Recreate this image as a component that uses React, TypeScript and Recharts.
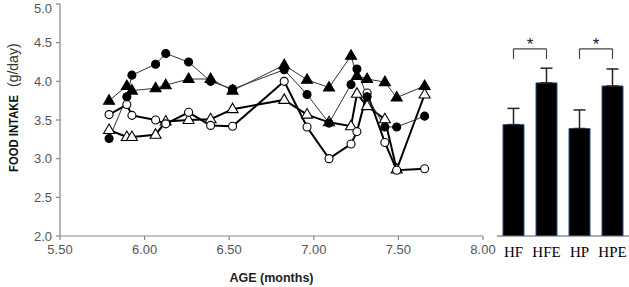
import React from 'react'
import {
  Bar,
  BarChart,
  ComposedChart,
  ErrorBar,
  Line,
  ReferenceLine,
  XAxis,
  YAxis,
} from 'recharts'

// ages (months) shared by the four time series
const ages = [5.79, 5.895, 5.925, 6.065, 6.125, 6.26, 6.39, 6.52, 6.825, 6.96, 7.09, 7.22, 7.255, 7.315, 7.42, 7.49, 7.655]

// filled circles (thin line)
const filledCircle = [3.26, 3.8, 4.08, 4.22, 4.36, 4.25, 4.0, 3.9, 4.15, 3.83, 3.46, 3.96, 4.16, 3.8, 3.41, 3.41, 3.55]
// filled triangles (thin line)
const filledTriangle = [3.75, 3.94, 3.88, 3.91, 3.95, 4.03, 4.03, 3.88, 4.21, 4.02, 3.92, 4.33, 4.07, 4.03, 3.99, 3.79, 3.94]
// open circles (thick line)
const openCircle = [3.57, 3.7, 3.56, 3.5, 3.45, 3.6, 3.43, 3.42, 4.0, 3.41, 3.0, 3.19, 3.35, 3.85, 3.21, 2.85, 2.87]
// open triangles (thick line)
const openTriangle = [3.37, 3.28, 3.28, 3.31, 3.48, 3.5, 3.51, 3.64, 3.76, 3.57, 3.47, 3.42, 3.84, 3.68, 3.51, 2.86, 3.83]

const xTicks = [5.5, 6.0, 6.5, 7.0, 7.5, 8.0]
const yTicks = [2.0, 2.5, 3.0, 3.5, 4.0, 4.5, 5.0]

// bar panel
const groups = ['HF', 'HFE', 'HP', 'HPE']
const means = [3.44, 3.98, 3.39, 3.94]
const errors = [0.21, 0.19, 0.24, 0.22]
const sigPairs: [string, string][] = [['HF', 'HFE'], ['HP', 'HPE']]
const bracketTop = 4.42
const bracketFoot = 4.29

const series = ages.map((age, i) => ({
  age,
  fc: filledCircle[i],
  ft: filledTriangle[i],
  oc: openCircle[i],
  ot: openTriangle[i],
}))

// only the upper whisker is drawn
const bars = groups.map((group, i) => ({ group, mean: means[i], sem: [0, errors[i]] }))

const sans = '"Liberation Sans", Arial, sans-serif'
const serif = '"Liberation Serif", "Times New Roman", serif'

const circleDot = (fill: string) => (p: any) => {
  if (p.cx == null || p.cy == null) return <g key={p.index} />
  return <circle key={p.index} cx={p.cx} cy={p.cy} r={4} fill={fill} stroke="#000" strokeWidth={1.1} />
}

const triDot = (fill: string) => (p: any) => {
  if (p.cx == null || p.cy == null) return <g key={p.index} />
  const { cx, cy } = p
  return (
    <path
      key={p.index}
      d={`M${cx},${cy - 6} L${cx + 5.5},${cy + 3.5} L${cx - 5.5},${cy + 3.5} Z`}
      fill={fill}
      stroke="#000"
      strokeWidth={1.1}
    />
  )
}

const yLabel = () => (
  <g>
    <text
      transform="translate(18,172) rotate(-90)"
      fontFamily={sans}
      fontWeight="bold"
      fontSize={12}
      fill="#111"
      textLength={77}
      lengthAdjust="spacingAndGlyphs"
    >
      FOOD INTAKE
    </text>
    <text transform="translate(18,87) rotate(-90)" fontFamily={sans} fontSize={14} fill="#333">
      (g/day)
    </text>
  </g>
)

const xLabel = () => (
  <text x={271.5} y={282} textAnchor="middle" fontFamily={sans} fontWeight="bold" fontSize={12.5} fill="#222">
    AGE (months)
  </text>
)

export default function App() {
  return (
    <div style={{ position: 'absolute', left: 0, top: 0, width: 629, height: 287, background: '#fff' }}>
      <div style={{ position: 'absolute', left: 0, top: 0 }}>
        <ComposedChart width={500} height={287} data={series} margin={{ top: 4, right: 17, bottom: 1, left: 20 }}>
          <XAxis
            type="number"
            dataKey="age"
            domain={[5.5, 8]}
            ticks={xTicks}
            allowDataOverflow
            tickFormatter={(v: number) => v.toFixed(2)}
            tickSize={4}
            tickMargin={5}
            height={50}
            stroke="#888"
            strokeWidth={1.2}
            tick={{ fill: '#555', fontSize: 13, fontFamily: sans }}
            label={{ content: xLabel }}
          />
          <YAxis
            type="number"
            domain={[2, 5]}
            ticks={yTicks}
            allowDataOverflow
            tickFormatter={(v: number) => v.toFixed(1)}
            tickSize={4}
            tickMargin={4}
            width={40}
            stroke="#888"
            strokeWidth={1.2}
            tick={{ fill: '#555', fontSize: 13, fontFamily: sans }}
            label={{ content: yLabel }}
          />
          <Line dataKey="ot" stroke="#000" strokeWidth={2} dot={triDot('#fff')} isAnimationActive={false} />
          <Line dataKey="oc" stroke="#000" strokeWidth={2} dot={circleDot('#fff')} isAnimationActive={false} />
          <Line dataKey="ft" stroke="#333" strokeWidth={1} dot={triDot('#000')} isAnimationActive={false} />
          <Line dataKey="fc" stroke="#333" strokeWidth={1} dot={circleDot('#000')} isAnimationActive={false} />
        </ComposedChart>
      </div>
      <div style={{ position: 'absolute', left: 470, top: 0 }}>
        <BarChart width={159} height={287} data={bars} margin={{ top: 4, right: 0, bottom: 1, left: 27 }}>
          <XAxis
            dataKey="group"
            height={50}
            tickLine={false}
            tickMargin={4}
            stroke="#555"
            strokeWidth={1.2}
            tick={{ fill: '#000', fontSize: 15, fontFamily: serif }}
          />
          <YAxis hide type="number" domain={[2, 5]} allowDataOverflow />
          <Bar dataKey="mean" fill="#000" stroke="#2f4f7f" strokeWidth={1} barSize={21} isAnimationActive={false}>
            <ErrorBar dataKey="sem" direction="y" width={6} stroke="#222" strokeWidth={1.5} />
          </Bar>
          {sigPairs.map(([a, b]) => (
            <ReferenceLine
              key={a + b}
              segment={[{ x: a, y: bracketTop }, { x: b, y: bracketTop }]}
              stroke="#444"
              strokeWidth={1.2}
              ifOverflow="visible"
              label={{ value: '*', position: 'top', offset: -1, fontSize: 17, fill: '#222', fontFamily: sans }}
            />
          ))}
          {sigPairs.flatMap(([a, b]) =>
            [a, b].map((g) => (
              <ReferenceLine
                key={'leg' + a + b + g}
                segment={[{ x: g, y: bracketFoot }, { x: g, y: bracketTop }]}
                stroke="#444"
                strokeWidth={1.2}
                ifOverflow="visible"
              />
            ))
          )}
        </BarChart>
      </div>
    </div>
  )
}
